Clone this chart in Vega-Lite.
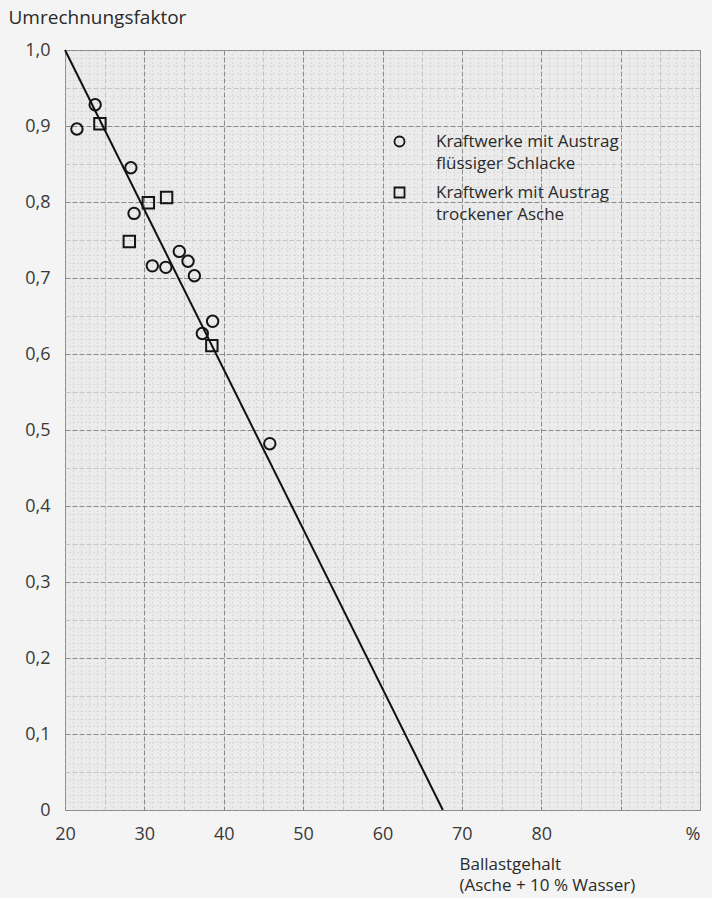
{
  "$schema": "https://vega.github.io/schema/vega-lite/v6.json",
  "width": 635,
  "height": 760,
  "autosize": {"type": "none"},
  "padding": {"left": 65, "top": 50, "right": 12, "bottom": 88},
  "background": "#f4f4f4",
  "config": {
    "view": {"fill": "#ebebeb", "stroke": "#9a9a9a", "strokeWidth": 1},
    "font": "Open Sans",
    "style": {"guide-label": {"lineHeight": 22}}
  },
  "datasets": {
    "punkte": [
      {"ballast": 23.8, "faktor": 0.928, "typ": "Kraftwerke mit Austrag flüssiger Schlacke"},
      {"ballast": 21.5, "faktor": 0.896, "typ": "Kraftwerke mit Austrag flüssiger Schlacke"},
      {"ballast": 28.3, "faktor": 0.845, "typ": "Kraftwerke mit Austrag flüssiger Schlacke"},
      {"ballast": 28.7, "faktor": 0.785, "typ": "Kraftwerke mit Austrag flüssiger Schlacke"},
      {"ballast": 34.4, "faktor": 0.735, "typ": "Kraftwerke mit Austrag flüssiger Schlacke"},
      {"ballast": 35.5, "faktor": 0.722, "typ": "Kraftwerke mit Austrag flüssiger Schlacke"},
      {"ballast": 31.0, "faktor": 0.716, "typ": "Kraftwerke mit Austrag flüssiger Schlacke"},
      {"ballast": 32.7, "faktor": 0.714, "typ": "Kraftwerke mit Austrag flüssiger Schlacke"},
      {"ballast": 36.3, "faktor": 0.703, "typ": "Kraftwerke mit Austrag flüssiger Schlacke"},
      {"ballast": 38.6, "faktor": 0.643, "typ": "Kraftwerke mit Austrag flüssiger Schlacke"},
      {"ballast": 37.3, "faktor": 0.627, "typ": "Kraftwerke mit Austrag flüssiger Schlacke"},
      {"ballast": 45.8, "faktor": 0.482, "typ": "Kraftwerke mit Austrag flüssiger Schlacke"},
      {"ballast": 24.4, "faktor": 0.903, "typ": "Kraftwerk mit Austrag trockener Asche"},
      {"ballast": 30.5, "faktor": 0.799, "typ": "Kraftwerk mit Austrag trockener Asche"},
      {"ballast": 32.8, "faktor": 0.806, "typ": "Kraftwerk mit Austrag trockener Asche"},
      {"ballast": 28.1, "faktor": 0.748, "typ": "Kraftwerk mit Austrag trockener Asche"},
      {"ballast": 38.5, "faktor": 0.611, "typ": "Kraftwerk mit Austrag trockener Asche"}
    ],
    "gerade": [
      {"ballast": 20, "faktor": 1.0},
      {"ballast": 67.6, "faktor": 0.0}
    ]
  },
  "layer": [
    {
      "data": {"name": "gerade"},
      "mark": {"type": "line", "color": "#111111", "strokeWidth": 2},
      "encoding": {
        "x": {
          "field": "ballast",
          "type": "quantitative",
          "scale": {"domain": [20, 100], "nice": false, "zero": false},
          "axis": {
            "values": [20,21,22,23,24,25,26,27,28,29,30,31,32,33,34,35,36,37,38,39,40,41,42,43,44,45,46,47,48,49,50,51,52,53,54,55,56,57,58,59,60,61,62,63,64,65,66,67,68,69,70,71,72,73,74,75,76,77,78,79,80,81,82,83,84,85,86,87,88,89,90,91,92,93,94,95,96,97,98,99,100],
            "tickCount": 300,
            "grid": true,
            "gridColor": {"condition": {"test": "round(datum.value) % 10 == 0", "value": "#8a8a8a"}, "value": "#c4c4c4"},
            "gridDash": {"condition": {"test": "round(datum.value) % 5 == 0", "value": [5, 2]}, "value": [1, 3]},
            "ticks": false,
            "domain": false,
            "labelOverlap": false,
            "labelFlush": false,
            "labelExpr": "round(datum.value) % 10 == 0 ? (datum.value == 100 ? '%' : (datum.value == 90 ? '' : format(datum.value, 'd'))) : ''",
            "labelAlign": {"condition": {"test": "datum.value == 100", "value": "right"}, "value": "center"},
            "labelFontSize": 18,
            "labelColor": "#3a3a3a",
            "labelPadding": 15,
            "title": ["Ballastgehalt", "(Asche + 10 % Wasser)"],
            "titleFontSize": 17,
            "titleFontWeight": "normal",
            "titleColor": "#2a2a2a",
            "titleAlign": "left",
            "titleAnchor": "start",
            "titleAngle": 0,
            "titleX": 394,
            "titleY": 59,
            "titleBaseline": "alphabetic",
            "titleLineHeight": 21
          }
        },
        "y": {
          "field": "faktor",
          "type": "quantitative",
          "scale": {"domain": [0, 1], "nice": false},
          "axis": {
            "values": [0,0.01,0.02,0.03,0.04,0.05,0.06,0.07,0.08,0.09,0.1,0.11,0.12,0.13,0.14,0.15,0.16,0.17,0.18,0.19,0.2,0.21,0.22,0.23,0.24,0.25,0.26,0.27,0.28,0.29,0.3,0.31,0.32,0.33,0.34,0.35,0.36,0.37,0.38,0.39,0.4,0.41,0.42,0.43,0.44,0.45,0.46,0.47,0.48,0.49,0.5,0.51,0.52,0.53,0.54,0.55,0.56,0.57,0.58,0.59,0.6,0.61,0.62,0.63,0.64,0.65,0.66,0.67,0.68,0.69,0.7,0.71,0.72,0.73,0.74,0.75,0.76,0.77,0.78,0.79,0.8,0.81,0.82,0.83,0.84,0.85,0.86,0.87,0.88,0.89,0.9,0.91,0.92,0.93,0.94,0.95,0.96,0.97,0.98,0.99,1],
            "tickCount": 300,
            "grid": true,
            "gridColor": {"condition": {"test": "round(datum.value * 100) % 10 == 0", "value": "#8a8a8a"}, "value": "#c4c4c4"},
            "gridDash": {"condition": {"test": "round(datum.value * 100) % 5 == 0", "value": [5, 2]}, "value": [1, 3]},
            "ticks": false,
            "domain": false,
            "labelOverlap": false,
            "labelFlush": false,
            "labelExpr": "round(datum.value * 100) % 10 == 0 ? (datum.value == 0 ? '0' : replace(format(datum.value, '.1f'), '.', ',')) : ''",
            "labelFontSize": 18,
            "labelColor": "#3a3a3a",
            "labelPadding": 15,
            "title": "Umrechnungsfaktor",
            "titleFontSize": 19,
            "titleFontWeight": "normal",
            "titleColor": "#2a2a2a",
            "titleAngle": 0,
            "titleAlign": "left",
            "titleBaseline": "alphabetic",
            "titleX": -57,
            "titleY": -27
          }
        }
      }
    },
    {
      "data": {"name": "punkte"},
      "mark": {"type": "point", "filled": false, "strokeWidth": 2, "color": "#151515", "size": 130, "opacity": 1},
      "encoding": {
        "x": {"field": "ballast", "type": "quantitative"},
        "y": {"field": "faktor", "type": "quantitative"},
        "shape": {
          "field": "typ",
          "type": "nominal",
          "scale": {
            "domain": ["Kraftwerke mit Austrag flüssiger Schlacke", "Kraftwerk mit Austrag trockener Asche"],
            "range": ["circle", "square"]
          },
          "legend": {
            "orient": "none",
            "legendX": 326,
            "legendY": 83,
            "title": null,
            "labelExpr": "datum.label == 'Kraftwerke mit Austrag flüssiger Schlacke' ? ['Kraftwerke mit Austrag', 'flüssiger Schlacke'] : ['Kraftwerk mit Austrag', 'trockener Asche']",
            "labelFontSize": 17,
            "labelColor": "#2a2a2a",
            "labelOffset": 28,
            "labelBaseline": "middle",
            "rowPadding": 11,
            "symbolStrokeWidth": 1.8,
            "symbolSize": 100,
            "labelLimit": 300
          }
        }
      }
    }
  ]
}
